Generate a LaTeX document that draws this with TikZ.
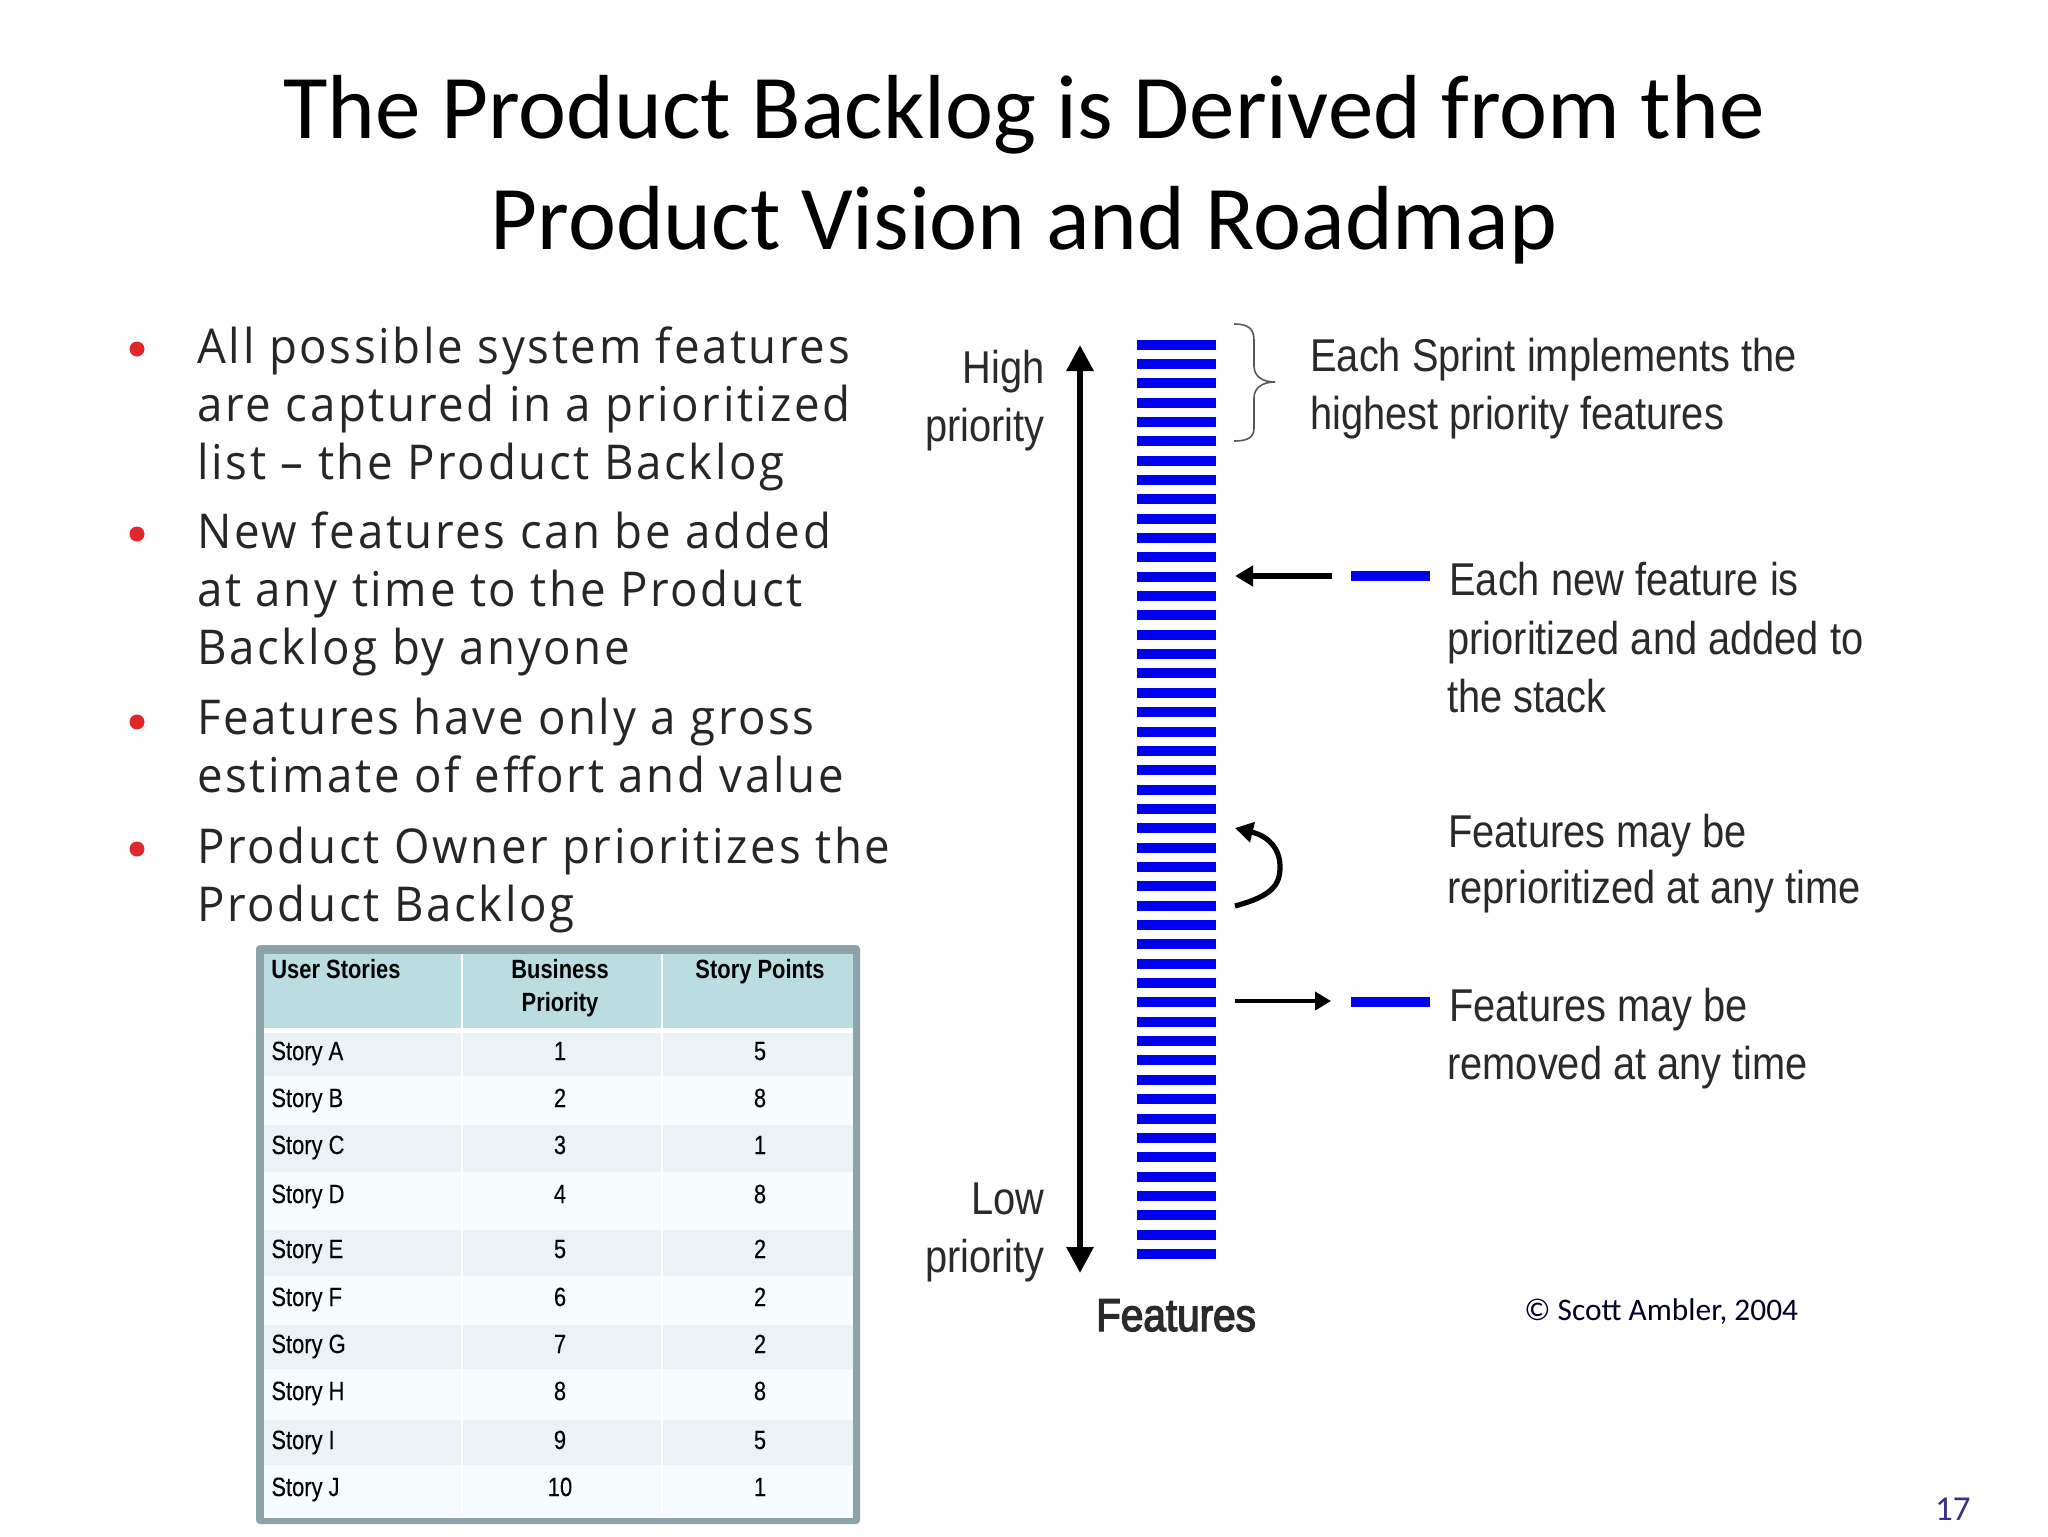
\documentclass[tikz,border=0pt]{standalone}
\usepackage{fontspec}
\usetikzlibrary{arrows.meta}
\setmainfont{Carlito}
\newfontfamily\bodyf[FakeStretch=0.95,LetterSpace=5.5]{Open Sans}
\newfontfamily\labf[FakeStretch=0.865]{Liberation Sans}
\newfontfamily\boldlab[FakeStretch=0.88,FakeBold=3]{Liberation Sans}
\newfontfamily\tabf[FakeStretch=0.83,FakeBold=0.2]{Liberation Sans}
\newfontfamily\tabb[FakeStretch=0.83]{Liberation Sans Bold}
\definecolor{bulletred}{HTML}{E0272B}
\definecolor{bodyink}{HTML}{262626}
\definecolor{labink}{HTML}{2A2A2A}
\definecolor{frameg}{HTML}{8CA4A9}
\definecolor{headf}{HTML}{B9DDE0}
\definecolor{rowa}{HTML}{EAF2F5}
\definecolor{rowb}{HTML}{F6FCFD}
\definecolor{stack}{HTML}{0000F0}
\definecolor{pagen}{HTML}{3A2F80}
\tikzset{
  titletext/.style={anchor=base,align=center,font=\fontsize{45.5}{55}\selectfont,text=black,inner sep=0},
  bodytext/.style={anchor=base west,align=left,inner sep=0,text=bodyink,font=\bodyf\fontsize{24}{29}\selectfont},
  dotmark/.style={circle,fill=bulletred,inner sep=0,minimum size=7.5pt},
  lab/.style={anchor=base west,align=left,inner sep=0,text=labink,font=\labf\fontsize{23}{29}\selectfont},
  labr/.style={anchor=base east,align=right,inner sep=0,text=labink,font=\labf\fontsize{23}{29}\selectfont},
  cellt/.style={inner sep=0,text=black,font=\tabf\fontsize{13.2}{16.5}\selectfont},
  cellh/.style={inner sep=0,text=black,align=center,font=\tabb\fontsize{13.2}{16.5}\selectfont},
  bar/.style={fill=stack,draw=none},
  axisarrow/.style={line width=3pt,{Triangle[length=13pt,width=13pt]}-{Triangle[length=13pt,width=13pt]}},
  thickarrow/.style={line width=2.6pt,-{Triangle[length=9pt,width=10pt]}},
  thinarrow/.style={line width=2.2pt,-{Triangle[length=8pt,width=9pt]}},
}
\begin{document}
\begin{tikzpicture}[x=0.5pt,y=-0.5pt]
\useasboundingbox (0,0) rectangle (2048,1536);
\fill[white] (0,0) rectangle (2048,1536);
% title
\node[titletext] (t1) at (1024,139) {The Product Backlog is Derived from the};
\node[titletext] (t2) at (1024,249) {Product Vision and Roadmap};
% bullets
\node[dotmark] (d1) at (137,349) {};
\node[dotmark] (d2) at (137,534) {};
\node[dotmark] (d3) at (137,722) {};
\node[dotmark] (d4) at (137,849) {};
\node[bodytext] (p1) at (197,479) {All possible system features\\are captured in a prioritized\\list – the Product Backlog};
\node[bodytext] (p2) at (197,664) {New features can be added\\at any time to the Product\\Backlog by anyone};
\node[bodytext] (p3) at (197,792) {Features have only a gross\\estimate of effort and value};
\node[bodytext] (p4) at (197,921) {Product Owner prioritizes the\\Product Backlog};
% table
\fill[frameg,rounded corners=2pt] (256,945) rectangle (860,1524);
\fill[white] (264,954) rectangle (853,1518);
\fill[headf] (264,954) rectangle (853,1028);
\foreach \ta/\tb/\cc in {1033/1076/rowa,1076/1125/rowb,1125/1172/rowa,1172/1230/rowb,1230/1276/rowa,1276/1325/rowb,1325/1369/rowa,1369/1420/rowb,1420/1465/rowa,1465/1512/rowb}
  \fill[\cc] (264,\ta) rectangle (853,\tb);
\fill[rowb] (264,1512) rectangle (853,1518);
\foreach \xx in {462,662}
  \draw[white,line width=0.8pt] (\xx,954) -- (\xx,1512);
\node[cellh,anchor=base west] (h1) at (271,978) {User Stories};
\node[cellh,anchor=base] (h2) at (560,1011) {Business\\Priority};
\node[cellh,anchor=base] (h3) at (760,978) {Story Points};
\foreach \yy/\na/\nb/\nc in {1060/A/1/5,1107/B/2/8,1154/C/3/1,1203/D/4/8,1258/E/5/2,1306/F/6/2,1353/G/7/2,1400/H/8/8,1449/I/9/5,1496/J/10/1}{
  \node[cellt,anchor=base west] (s\na) at (271,\yy) {Story \na};
  \node[cellt,anchor=base] (b\na) at (560,\yy) {\nb};
  \node[cellt,anchor=base] (q\na) at (760,\yy) {\nc};
}
% feature stack
\foreach \i in {0,...,47}
  \fill[bar] (1137,{339.5+19.35*\i}) rectangle (1216,{349.5+19.35*\i});
% axis
\coordinate (axtop) at (1080,345);
\coordinate (axbot) at (1080,1273);
\draw[axisarrow] (axtop) -- (axbot);
\node[labr] (hp) at (1045,441) {High\\priority};
\node[labr] (lp) at (1045,1272) {Low\\priority};
\node[anchor=base,inner sep=0,text=labink,font=\boldlab\fontsize{23}{29}\selectfont] (feat) at (1176,1331) {Features};
% brace
\draw[draw=black!65,line width=0.8pt] (1234,324) .. controls (1247,324) and (1254,328) .. (1254,340) -- (1254,366) .. controls (1254,376) and (1262,382) .. (1275,382) .. controls (1262,382) and (1254,388) .. (1254,398) -- (1254,428) .. controls (1254,438) and (1247,441) .. (1234,441);
\node[lab] (l1) at (1310,429) {Each Sprint implements the\\highest priority features};
% new feature
\fill[bar] (1351,571) rectangle (1430,581);
\coordinate (nfs) at (1332,576);
\coordinate (nfe) at (1235,576);
\draw[thickarrow] (nfs) -- (nfe);
\node[lab] (l2) at (1449,595) {Each new feature is};
\node[lab] (l2b) at (1447,712) {prioritized and added to\\the stack};
% reprioritize
\coordinate (rs) at (1235,906);
\coordinate (re) at (1235,828);
\draw[thickarrow] (rs) .. controls (1272,896) and (1280,885) .. (1280,867) .. controls (1280,848) and (1268,836) .. (re);
\node[lab] (l3) at (1448,847) {Features may be};
\node[lab] (l3b) at (1447,903) {reprioritized at any time};
% remove
\fill[bar] (1351,997) rectangle (1430,1007);
\coordinate (xs) at (1235,1001);
\coordinate (xe) at (1331,1001);
\draw[thinarrow] (xs) -- (xe);
\node[lab] (l4) at (1449,1021) {Features may be};
\node[lab] (l4b) at (1447,1079) {removed at any time};
% footer
\node[anchor=base west,inner sep=0,text=black!85!blue,font=\fontsize{15.7}{18}\selectfont] (c) at (1524,1320) {© Scott Ambler, 2004};
\node[anchor=base east,inner sep=0,text=pagen,font=\fontsize{17.5}{20}\selectfont] (pg) at (1971,1520) {17};
\end{tikzpicture}
\end{document}
